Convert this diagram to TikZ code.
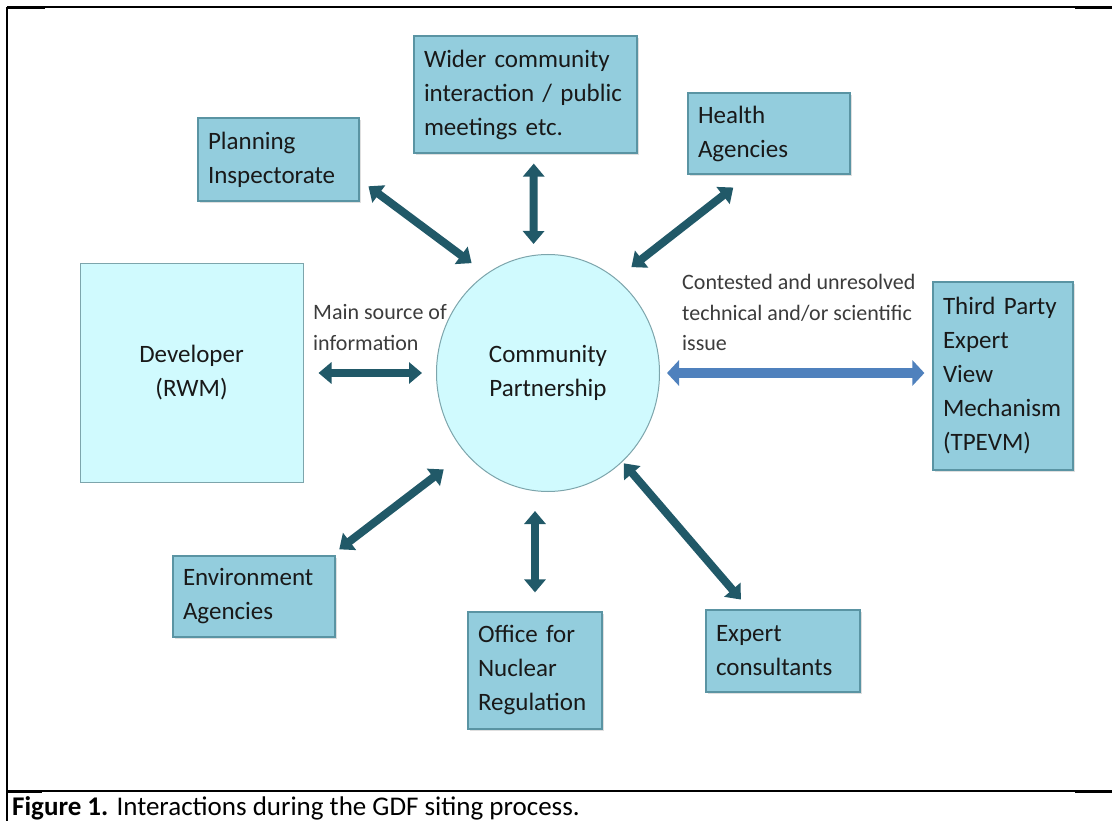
\documentclass[tikz,border=0pt]{standalone}
\usepackage{fontspec}
\setmainfont{Carlito}
\usepackage{tikz}
\usetikzlibrary{arrows.meta,positioning,shapes.geometric,shadows}
\definecolor{boxfill}{RGB}{147,205,221}
\definecolor{boxline}{RGB}{90,148,163}
\definecolor{palecyan}{RGB}{208,250,254}
\definecolor{paleline}{RGB}{125,165,172}
\definecolor{linkteal}{RGB}{33,89,104}
\definecolor{linkblue}{RGB}{79,129,189}
\definecolor{inktext}{RGB}{25,25,25}
\definecolor{notetext}{RGB}{60,60,60}

\begin{document}
\begin{tikzpicture}[
    x=1pt, y=-1pt,
    party/.style={draw=boxline, fill=boxfill, line width=1.2pt, align=left,
                  inner xsep=10pt, inner ysep=0pt, text=inktext,
                  font=\fontsize{25}{34}\selectfont,
                  drop shadow={shadow xshift=1.5pt, shadow yshift=-2pt, opacity=0.25}},
    pale/.style={draw=paleline, fill=palecyan, line width=1pt, align=center,
                 inner sep=0pt, text=inktext, font=\fontsize{25}{34}\selectfont},
    note/.style={align=left, inner sep=0pt, text=notetext,
                 font=\fontsize{22}{30.5}\selectfont},
    link/.style={line width=8pt, linkteal,
                 {Triangle[length=13pt,width=21pt]}-{Triangle[length=13pt,width=21pt]}},
    query/.style={line width=10pt, linkblue,
                  {Triangle[length=12pt,width=25pt]}-{Triangle[length=12pt,width=25pt]}}
]
\useasboundingbox (0,0) rectangle (1112,821);
\fill[white] (0,0) rectangle (1112,821);

\draw[line width=2pt] (7,7) -- (7,821);
\draw[line width=1.5pt] (7,7) -- (1112,7);
\draw[line width=2.5pt] (7,7.5) -- (45,7.5);
\draw[line width=3pt] (1075,8) -- (1112,8);
\draw[line width=1.5pt] (7,791) -- (1112,791);
\draw[line width=2.5pt] (7,791.5) -- (42,791.5);
\draw[line width=3pt] (1075,791.5) -- (1112,791.5);

\node[party, text width=141pt, minimum height=83pt] (plan) at (278.5,159.5) {Planning\\Inspectorate};
\node[party, text width=203pt, minimum height=117pt] (wider) at (525.5,94.5) {Wider community\\interaction / public\\meetings etc.};
\node[party, text width=142pt, minimum height=81pt] (health) at (769,133.5) {Health\\Agencies};
\node[pale, minimum width=223pt, minimum height=218pt] (dev) at (191.5,373) {Developer\\(RWM)};
\node[pale, ellipse, minimum width=223pt, minimum height=237pt] (cp) at (548,373) {Community\\Partnership};
\node[party, text width=120pt, minimum height=188pt] (tpevm) at (1003,376) {Third Party\\Expert\\View\\Mechanism\\(TPEVM)};
\node[party, text width=142pt, minimum height=81pt] (env) at (254,596.5) {Environment\\Agencies};
\node[party, text width=114pt, minimum height=117pt] (onr) at (535,670.5) {Office for\\Nuclear\\Regulation};
\node[party, text width=134pt, minimum height=82pt] (expert) at (783,651) {Expert\\consultants};

\node[note, anchor=west] (srcnote) at (313,327.5) {Main source of\\information};
\node[note, anchor=west] (issuenote) at (682,312.5) {Contested and unresolved\\technical and/or scientific\\issue};

\draw[link, shorten <=11pt, shorten >=18pt] (plan.-14) -- (cp.122);
\draw[link, shorten <=10pt, shorten >=11pt] (wider.-82) -- (cp.97);
\draw[link, shorten <=21pt, shorten >=19pt] (health.-115.5) -- (cp.54.6);
\draw[link, shorten <=15pt, shorten >=14pt] (dev.east) -- (dev.east -| cp.west);
\draw[query, shorten <=7pt, shorten >=8pt] (cp.east) -- (cp.east -| tpevm.west);
\draw[link, shorten <=10pt, shorten >=27pt] (env.28.3) -- (cp.-136.8);
\draw[link, shorten <=19pt, shorten >=19pt] (onr.north) -- (onr.north |- cp.south);
\draw[link, shorten <=2pt, shorten >=13pt] (cp.-50.2) -- (expert.129.2);

\node[anchor=base west, inner sep=0pt, font=\fontsize{27}{32}\selectfont] (caption) at (12,815)
    {\textbf{Figure 1.} Interactions during the GDF siting process.};
\end{tikzpicture}
\end{document}
